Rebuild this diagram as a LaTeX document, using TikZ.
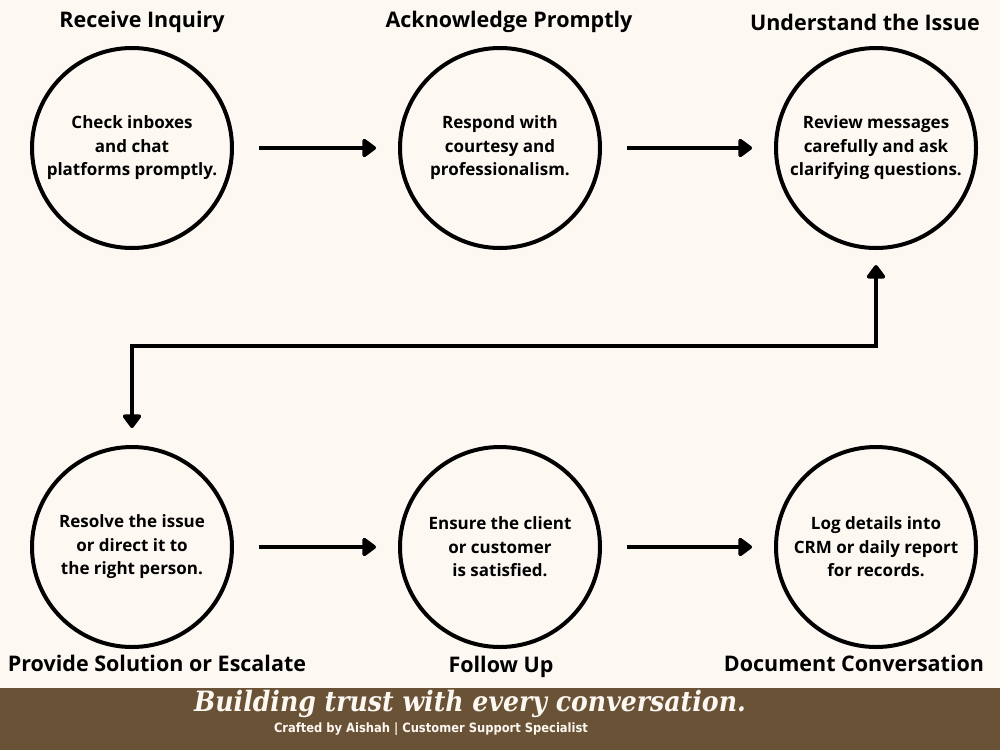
\documentclass[tikz,border=0pt]{standalone}
\usepackage{fontspec}
\setmainfont{Open Sans}
\newfontfamily\slabfont{DejaVu Serif Condensed}
\newfontfamily\narrowfont{DejaVu Sans Condensed}
\usetikzlibrary{arrows.meta}
\definecolor{cream}{RGB}{253,248,242}
\definecolor{bark}{RGB}{106,82,55}

\begin{document}
\begin{tikzpicture}[
    x=1pt,y=-1pt,
    >={Triangle[length=15pt,width=21pt,round]},
    stage/.style={circle,draw=black,line width=4pt,minimum size=200pt,inner sep=0pt,
        align=center,font=\fontsize{17}{23.5}\selectfont\bfseries},
    heading/.style={font=\fontsize{21.5}{25}\selectfont\bfseries},
    flow/.style={->,line width=4pt},
    tagline/.style={text=cream,font=\slabfont\fontsize{28}{32}\selectfont\bfseries\itshape},
    credit/.style={text=cream,font=\narrowfont\fontsize{12.8}{15}\selectfont\bfseries}
]
% Page and footer band.
\fill[cream] (0,0) rectangle (1000,750);
\fill[bark] (0,688) rectangle (1000,750);

% Top row of stages.
\node[stage] (c1) at (132,148) {Check inboxes\\and chat\\platforms promptly.};
\node[stage] (c2) at (500,148) {Respond with\\courtesy and\\professionalism.};
\node[stage] (c3) at (876,148) {Review messages\\carefully and ask\\clarifying questions.};

% Bottom row of stages.
\node[stage] (c4) at (132,547) {Resolve the issue\\or direct it to\\the right person.};
\node[stage] (c5) at (500,547) {Ensure the client\\or customer\\is satisfied.};
\node[stage] (c6) at (876,547) {Log details into\\CRM or daily report\\for records.};

% Stage headings.
\node[heading] (t1) at (142,22) {Receive Inquiry};
\node[heading] (t2) at (509,22) {Acknowledge Promptly};
\node[heading] (t3) at (865,22) {Understand the Issue};
\node[heading] (t4) at (157,663) {Provide Solution or Escalate};
\node[heading] (t5) at (501,667) {Follow Up};
\node[heading] (t6) at (854,663) {Document Conversation};

% Straight arrows along each row.
\foreach \from/\to in {c1/c2,c2/c3,c4/c5,c5/c6}{
    \draw[flow,shorten <=25pt,shorten >=22pt] (\from) -- (\to);
}

% Elbow link between the two rows.
\coordinate (bend) at (500,346);
\draw[flow,<->,shorten <=15pt,shorten >=17pt] (c3.south) |- (bend) -| (c4.north);

% Footer texts.
\node[tagline] (motto) at (470,704) {Building trust with every conversation.};
\node[credit] (byline) at (431,729) {Crafted by Aishah | Customer Support Specialist};
\end{tikzpicture}
\end{document}
